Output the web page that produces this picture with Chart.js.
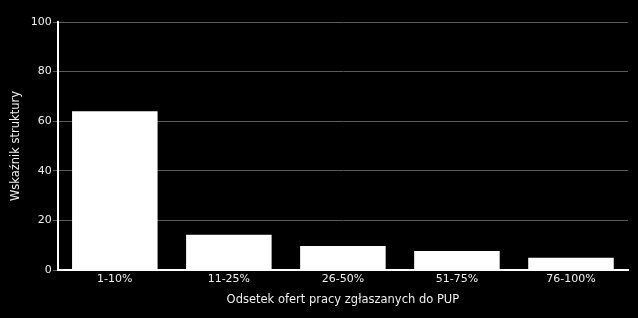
<!DOCTYPE html>
<html>
<head>
<meta charset="utf-8">
<script src="https://cdn.jsdelivr.net/npm/chart.js@4/dist/chart.umd.min.js"></script>
<style>
html,body{margin:0;padding:0;background:#000;}
#wrap{width:638px;height:318px;position:relative;}
</style>
</head>
<body>
<div id="wrap"><canvas id="c" width="638" height="318"></canvas></div>
<script>
const categories = ["1-10%", "11-25%", "26-50%", "51-75%", "76-100%"];
const values = [64.0, 14.2, 9.7, 7.7, 4.9];
const yTicks = [0, 20, 40, 60, 80, 100];
const xTitle = "Odsetek ofert pracy zgłaszanych do PUP";
const yTitle = "Wskaźnik struktury";

Chart.defaults.font.family = "'DejaVu Sans', sans-serif";
Chart.defaults.font.size = 11;
Chart.defaults.color = "#eeeeee";

new Chart(document.getElementById("c"), {
  type: "bar",
  data: {
    labels: categories,
    datasets: [{
      data: values,
      backgroundColor: "#ffffff",
      borderWidth: 0,
      categoryPercentage: 1.0,
      barPercentage: 0.75
    }]
  },
  options: {
    responsive: false,
    animation: false,
    devicePixelRatio: 1,
    layout: { padding: { top: 22, right: 10, bottom: 11, left: 9 } },
    plugins: { legend: { display: false }, tooltip: { enabled: false } },
    scales: {
      x: {
        grid: { display: false, drawTicks: false },
        border: { display: true, color: "#ffffff", width: 2 },
        ticks: { padding: 3, color: "#eeeeee", font: { size: 11 } },
        title: { display: true, text: xTitle, color: "#eeeeee", font: { size: 11.5 }, padding: { top: 4, bottom: 0 } }
      },
      y: {
        min: 0, max: 100,
        afterBuildTicks: (axis) => { axis.ticks = yTicks.map(v => ({ value: v })); },
        grid: { color: "#5a5a5a", lineWidth: 1, tickLength: 5, drawTicks: true },
        border: { display: true, color: "#ffffff", width: 2 },
        ticks: { padding: 1, color: "#eeeeee", font: { size: 11 } },
        title: { display: true, text: yTitle, color: "#eeeeee", font: { size: 11.5 }, padding: { top: 0, bottom: 7 } }
      }
    }
  }
});
</script>
</body>
</html>
